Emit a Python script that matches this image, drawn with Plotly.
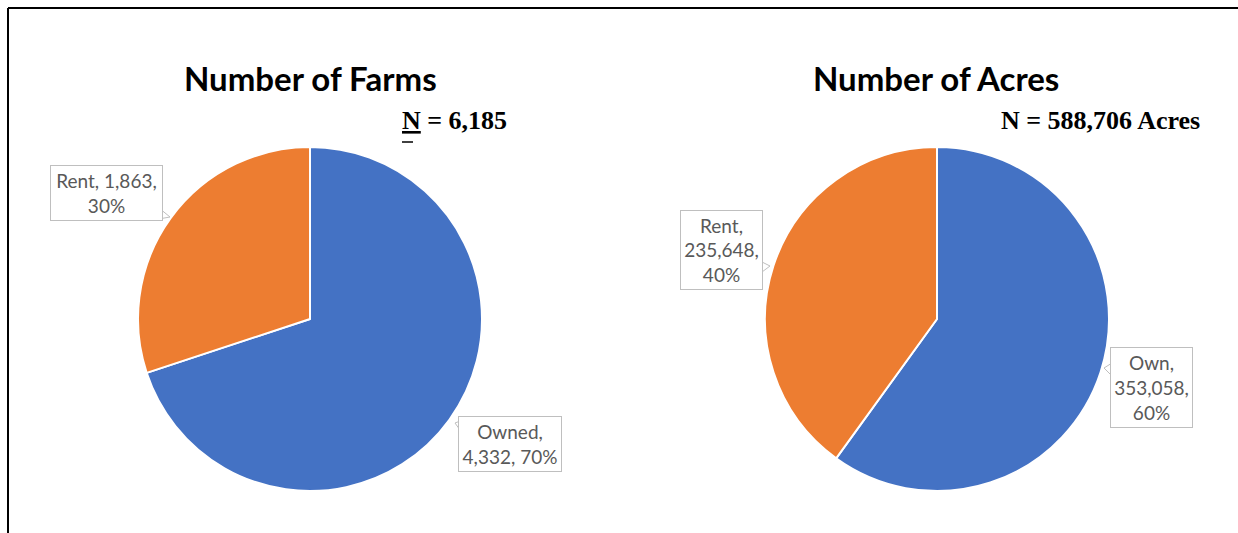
import plotly.graph_objects as go

# ---- data ----
farm_labels = ["Owned", "Rent"]
farm_values = [4332, 1863]
acre_labels = ["Own", "Rent"]
acre_values = [353058, 235648]
titles = ["Number of Farms", "Number of Acres"]
n_labels = ["N = 6,185", "N = 588,706 Acres"]
colors = ["#4472C4", "#ED7D31"]

W, H = 1238, 533


def px(x):
    return x / W


def py(y):
    return 1 - y / H


def pct(v, vals):
    return round(100 * v / sum(vals))


fig = go.Figure()
pie_boxes = [(138, 482), (765, 1109)]
for (x0, x1), labels, values in [(pie_boxes[0], farm_labels, farm_values),
                                 (pie_boxes[1], acre_labels, acre_values)]:
    fig.add_trace(go.Pie(
        labels=labels, values=values, sort=False, direction="clockwise",
        rotation=0, textinfo="none", hole=0,
        marker=dict(colors=colors, line=dict(color="white", width=2)),
        domain=dict(x=[px(x0), px(x1)], y=[py(491), py(147)]),
        showlegend=False,
    ))

# label texts from data
fo, fr = farm_values
ao, ar = acre_values
txt_farm_rent = f"{farm_labels[1]}, {fr:,},<br>{pct(fr, farm_values)}%"
txt_farm_own = f"{farm_labels[0]},<br>{fo:,}, {pct(fo, farm_values)}%"
txt_acre_rent = f"{acre_labels[1]},<br>{ar:,},<br>{pct(ar, acre_values)}%"
txt_acre_own = f"{acre_labels[0]},<br>{ao:,},<br>{pct(ao, acre_values)}%"

label_font = dict(family="Lato, Carlito, Calibri, sans-serif", size=19, color="#595959")
boxes = [
    (txt_farm_rent, 50, 165, 163, 221),
    (txt_farm_own, 458, 416, 562, 472),
    (txt_acre_rent, 680, 210, 763, 290),
    (txt_acre_own, 1110, 347, 1193, 428),
]
annotations = []
for t, x0, y0, x1, y1 in boxes:
    annotations.append(dict(
        text=t, x=px((x0 + x1) / 2), y=py((y0 + y1) / 2), xref="paper", yref="paper",
        xanchor="center", yanchor="middle", showarrow=False, align="center",
        font=label_font, bordercolor="#BFBFBF", borderwidth=1, bgcolor="white",
        width=x1 - x0 - 4, height=y1 - y0 - 4, borderpad=1,
    ))

title_font = dict(family="Lato, Carlito, Calibri, sans-serif", size=33, color="black")
for t, cx in zip(titles, [310, 936]):
    annotations.append(dict(
        text=f"<b>{t}</b>", x=px(cx), y=py(78), xref="paper", yref="paper",
        xanchor="center", yanchor="middle", showarrow=False, font=title_font,
    ))
n_font = dict(family="Liberation Serif, Times New Roman, serif", size=26, color="black")
annotations.append(dict(
    text="<b><span style='text-decoration:underline'>N</span> = 6,185</b>",
    x=px(454), y=py(120), xref="paper", yref="paper", xanchor="center",
    yanchor="middle", showarrow=False, font=n_font))
annotations.append(dict(
    text=f"<b>{n_labels[1]}</b>", x=px(1100), y=py(120), xref="paper", yref="paper",
    xanchor="center", yanchor="middle", showarrow=False, font=n_font))

shapes = [
    # outer frame: top and left borders
    dict(type="line", xref="paper", yref="paper", x0=px(8), y0=py(8), x1=1.0,
         y1=py(8), line=dict(color="black", width=2)),
    dict(type="line", xref="paper", yref="paper", x0=px(8), y0=py(8), x1=px(8),
         y1=0.0, line=dict(color="black", width=2)),
    # small dash under N
    dict(type="line", xref="paper", yref="paper", x0=px(402), x1=px(413), y0=py(142),
         y1=py(142), line=dict(color="black", width=1.5)),
]
# callout tails (open paths)
tails = [
    [(159, 208), (170, 217), (153, 220)],
    [(468, 418), (455, 423), (460, 430)],
    [(762, 262), (770, 266), (762, 272)],
    [(1112, 363), (1104, 368), (1112, 376)],
]
for pts in tails:
    p = "M {} {} L {} {} L {} {}".format(*[v for xy in [(px(a), py(b)) for a, b in pts] for v in xy])
    shapes.append(dict(type="path", xref="paper", yref="paper", path=p,
                       line=dict(color="#BFBFBF", width=1), fillcolor="white"))

fig.update_layout(
    width=W, height=H, margin=dict(l=0, r=0, t=0, b=0),
    paper_bgcolor="white", plot_bgcolor="white",
    annotations=annotations, shapes=shapes,
)
fig.write_html(
    "out.html",
    config={"displayModeBar": False},
    post_script="document.body.style.margin='0';document.body.style.overflow='hidden';"
                "document.documentElement.style.overflow='hidden';",
)
